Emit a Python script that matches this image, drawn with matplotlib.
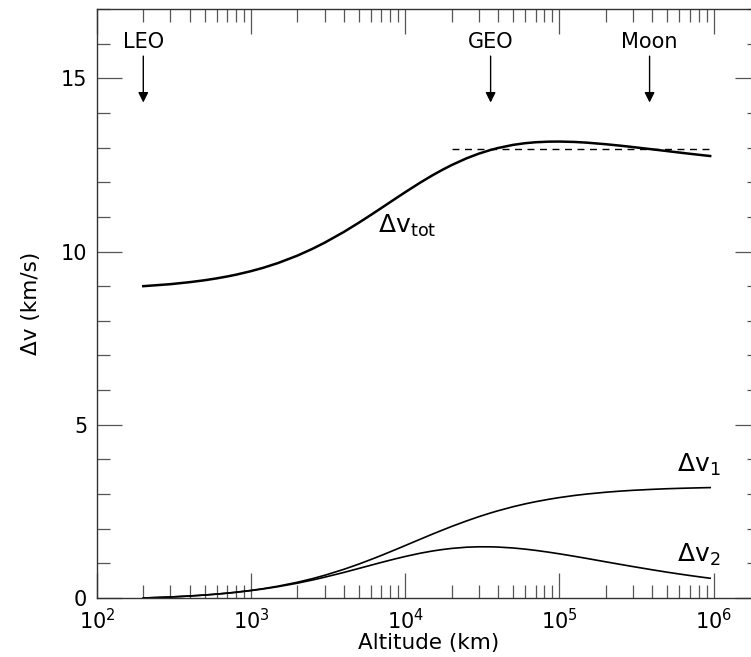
import matplotlib
matplotlib.use("Agg")
import matplotlib.pyplot as plt

# Altitude (km) and Δv values (km/s)
altitude = [200, 300, 400, 500, 600, 700, 800, 1000, 1200, 1500, 2000, 2500,
            3000, 4000, 5000, 6000, 7000, 8500, 10000, 12500, 15000, 17500,
            20000, 25000, 30000, 35786, 40000, 50000, 60000, 70000, 85000,
            100000, 125000, 150000, 200000, 250000, 300000, 400000, 500000,
            600000, 700000, 850000, 950000]
dv1 = [0.0, 0.029, 0.058, 0.086, 0.114, 0.141, 0.168, 0.220, 0.270, 0.343,
       0.455, 0.559, 0.655, 0.828, 0.979, 1.112, 1.229, 1.383, 1.514, 1.696,
       1.843, 1.963, 2.065, 2.225, 2.347, 2.455, 2.518, 2.634, 2.717, 2.779,
       2.848, 2.899, 2.959, 3.000, 3.053, 3.086, 3.108, 3.136, 3.154, 3.165,
       3.173, 3.182, 3.187]
dv2 = [0.0, 0.029, 0.058, 0.085, 0.112, 0.139, 0.164, 0.214, 0.261, 0.327,
       0.428, 0.519, 0.600, 0.738, 0.853, 0.947, 1.027, 1.123, 1.199, 1.292,
       1.356, 1.400, 1.431, 1.466, 1.478, 1.477, 1.470, 1.444, 1.410, 1.375,
       1.323, 1.275, 1.204, 1.143, 1.044, 0.968, 0.907, 0.814, 0.745, 0.692,
       0.649, 0.598, 0.570]
launch_dv = 9.0
dv_tot = [launch_dv + a + b for a, b in zip(dv1, dv2)]

escape_level = 12.95
escape_range = [20000, 950000]

markers = ["LEO", "GEO", "Moon"]
marker_alt = [200, 35786, 384400]

fig = plt.figure(figsize=(7.51, 6.57), dpi=100)
ax = fig.add_axes([0.129, 0.0898, 0.883, 0.8965])

ax.plot(altitude, dv_tot, color="black", lw=1.8, solid_joinstyle="round")
ax.plot(altitude, dv1, color="black", lw=1.2, solid_joinstyle="round")
ax.plot(altitude, dv2, color="black", lw=1.2, solid_joinstyle="round")
ax.plot(escape_range, [escape_level, escape_level], color="black", lw=1.0,
        ls=(0, (5, 4)))

ax.set_xscale("log")
ax.set_xlim(100, 2e6)
ax.set_ylim(0, 17)
ax.set_yticks([0, 5, 10, 15])
ax.set_yticks(range(0, 18), minor=True)

fs = 15
ax.tick_params(which="both", direction="in", top=True, right=True,
               labelsize=fs, pad=7)
ax.tick_params(which="major", length=18, width=0.9, color="#555555")
ax.tick_params(which="minor", length=9.5, width=0.9, color="#555555")
for s in ax.spines.values():
    s.set_linewidth(1.0)
    s.set_color("#333333")

ax.set_xlabel("Altitude (km)", fontsize=15.5, labelpad=0)
ax.set_ylabel("Δv (km/s)", fontsize=15.5, labelpad=14)

for name, x in zip(markers, marker_alt):
    ax.text(x, 16.05, name, ha="center", va="center", fontsize=fs)
    ax.annotate("", xy=(x, 14.3), xytext=(x, 15.64),
                arrowprops=dict(arrowstyle="-|>", color="black", lw=1.0,
                                mutation_scale=15, shrinkA=0, shrinkB=0))

lfs = 18
ax.text(6680, 10.55, r"$\Delta\mathrm{v}_{\mathrm{tot}}$", fontsize=lfs,
        ha="left", va="baseline")
ax.text(5.8e5, 3.64, r"$\Delta\mathrm{v}_{1}$", fontsize=lfs,
        ha="left", va="baseline")
ax.text(5.8e5, 1.04, r"$\Delta\mathrm{v}_{2}$", fontsize=lfs,
        ha="left", va="baseline")

fig.savefig("out.png", dpi=100)
